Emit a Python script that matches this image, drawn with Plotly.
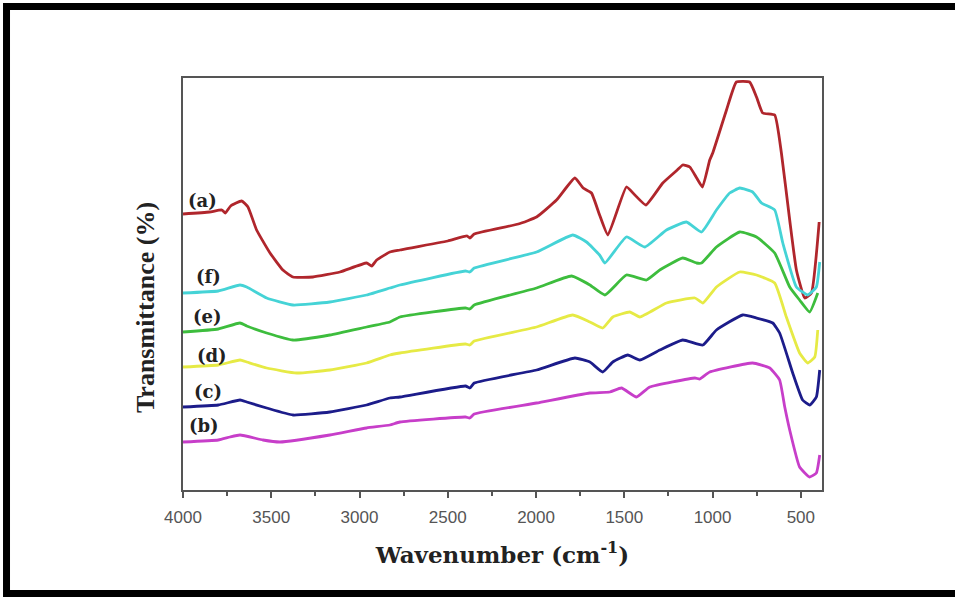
import plotly.graph_objects as go

# FTIR spectra (wavenumber, transmittance in arbitrary units)
wn_a = [4000, 3850, 3780, 3760, 3730, 3668, 3632, 3583, 3507, 3434, 3377, 3264, 3111, 2960, 2931, 2903, 2828, 2771, 2500, 2390, 2375, 2350, 2100, 1997, 1884, 1780, 1733, 1686, 1640, 1593, 1488, 1440, 1378, 1282, 1200, 1169, 1129, 1090, 1057, 1016, 999, 921, 865, 790, 751, 716, 648, 610, 563, 525, 478, 440, 396]
px_a = [214, 212, 210, 213, 206, 201, 207, 230, 253, 270, 277, 277, 272, 263, 266, 260, 252, 250, 241, 236, 238, 234, 224, 217, 200, 178, 188, 193, 215, 235, 187, 195, 205, 183, 170, 165, 167, 178, 187, 160, 153, 110, 82, 82, 97, 113, 115, 153, 220, 270, 298, 293, 222]

wn_f = [4000, 3800, 3677, 3639, 3526, 3377, 3168, 2960, 2828, 2771, 2400, 2375, 2350, 1997, 1792, 1714, 1640, 1610, 1488, 1384, 1261, 1148, 1063, 978, 903, 846, 773, 723, 648, 602, 525, 461, 412, 393]
px_f = [293, 291, 285, 287, 298, 305, 302, 295, 288, 285, 271, 272, 268, 252, 235, 242, 255, 263, 237, 247, 230, 222, 232, 210, 193, 188, 192, 203, 210, 243, 287, 295, 287, 262]

wn_e = [4000, 3800, 3677, 3639, 3526, 3377, 3168, 2960, 2828, 2771, 2400, 2375, 2350, 1997, 1799, 1695, 1610, 1488, 1374, 1299, 1169, 1091, 1063, 978, 846, 751, 648, 563, 507, 450, 404]
px_e = [332, 329, 323, 326, 333, 340, 335, 327, 322, 317, 308, 309, 305, 288, 276, 285, 295, 275, 280, 270, 258, 263, 263, 247, 232, 237, 253, 287, 300, 312, 293]

wn_d = [4000, 3800, 3677, 3639, 3526, 3356, 3168, 2960, 2828, 2771, 2400, 2375, 2350, 1997, 1792, 1695, 1622, 1565, 1469, 1412, 1261, 1100, 1055, 978, 846, 751, 648, 582, 507, 461, 421, 404]
px_d = [367, 365, 360, 362, 368, 373, 370, 363, 355, 353, 344, 345, 341, 327, 315, 322, 328, 317, 312, 317, 303, 298, 303, 287, 272, 275, 283, 317, 353, 363, 357, 330]

wn_c = [4000, 3800, 3677, 3639, 3526, 3377, 3168, 2960, 2828, 2771, 2400, 2375, 2350, 1997, 1780, 1695, 1622, 1565, 1480, 1412, 1299, 1169, 1055, 978, 829, 751, 659, 620, 546, 490, 450, 412, 393]
px_c = [407, 405, 400, 402, 408, 415, 412, 405, 398, 397, 386, 388, 383, 370, 358, 362, 372, 362, 355, 360, 350, 340, 345, 330, 315, 318, 323, 333, 373, 400, 405, 397, 370]

wn_b = [4000, 3800, 3734, 3677, 3547, 3451, 3168, 2960, 2828, 2771, 2400, 2375, 2350, 1997, 1695, 1582, 1516, 1431, 1356, 1100, 1072, 1016, 773, 676, 620, 591, 563, 507, 450, 412, 393]
px_b = [442, 440, 437, 435, 440, 442, 435, 428, 425, 422, 417, 418, 414, 403, 393, 392, 388, 397, 387, 378, 379, 372, 363, 368, 380, 407, 430, 467, 477, 473, 455]

series_names = ["(a)", "(f)", "(e)", "(d)", "(c)", "(b)"]
series_wn = [wn_a, wn_f, wn_e, wn_d, wn_c, wn_b]
series_px = [px_a, px_f, px_e, px_d, px_c, px_b]
colors = ["#b0262c", "#45d3d6", "#3dbd3d", "#e6ea45", "#1c1c8a", "#c73ec9"]

label_wn = [3887, 3858, 3864, 3836, 3858, 3881]
label_px = [200, 276, 316, 355, 391, 425]

BASE = 490  # transmittance a.u. = BASE - pixel height read

fig = go.Figure()
for name, wn, px, col in zip(series_names, series_wn, series_px, colors):
    fig.add_trace(go.Scatter(x=wn, y=[BASE - p for p in px], mode="lines", name=name,
                             line=dict(color=col, width=2.8, shape="spline", smoothing=0.4),
                             showlegend=False))

for name, lw, lp in zip(series_names, label_wn, label_px):
    fig.add_annotation(x=lw, y=BASE - lp, text="<b>%s</b>" % name, showarrow=False,
                       font=dict(family="DejaVu Serif", size=18, color="#222"))

# y-axis title placed as rotated text (it sits below the plot centre in the original)
fig.add_annotation(xref="paper", yref="paper", x=-0.0595, y=0.444, text="<b>Transmittance (%)</b>",
                   textangle=-90, showarrow=False, xanchor="center", yanchor="middle",
                   font=dict(family="Liberation Serif", size=26, color="#222"))

fig.update_layout(
    width=955, height=599,
    margin=dict(l=183, r=133, t=78, b=109),
    paper_bgcolor="white", plot_bgcolor="white",
    font=dict(family="Liberation Sans", color="#444"),
)
fig.update_xaxes(
    range=[4000, 380], tickvals=[4000, 3500, 3000, 2500, 2000, 1500, 1000, 500],
    ticks="outside", ticklen=6, tickwidth=1.5, tickcolor="#555", ticklabelstandoff=5,
    minor=dict(ticks="outside", ticklen=4, tickcolor="#555", dtick=250, tick0=0),
    showline=True, linecolor="#555", linewidth=2, mirror=True, showgrid=False, zeroline=False,
    tickfont=dict(family="Liberation Sans", size=17, color="#555"),
    title=dict(text="<b>Wavenumber (cm<sup>-1</sup>)</b>", standoff=20,
               font=dict(family="DejaVu Serif", size=23, color="#222")),
)
fig.update_yaxes(
    range=[0, 412], showticklabels=False, ticks="",
    showline=True, linecolor="#555", linewidth=2, mirror=True, showgrid=False, zeroline=False,
)

# outer black frame
for x0, y0, x1, y1 in [(-0.2762, 1.1735, 1.21, 1.1735), (-0.2762, 1.182, -0.2762, -0.26), (-0.2762, -0.2512, 1.21, -0.2512)]:
    fig.add_shape(type="line", xref="paper", yref="paper", x0=x0, y0=y0, x1=x1, y1=y1,
                  line=dict(color="black", width=7))

fig.write_html("out.html", config={"displayModeBar": False},
               post_script="document.body.style.margin='0';")
